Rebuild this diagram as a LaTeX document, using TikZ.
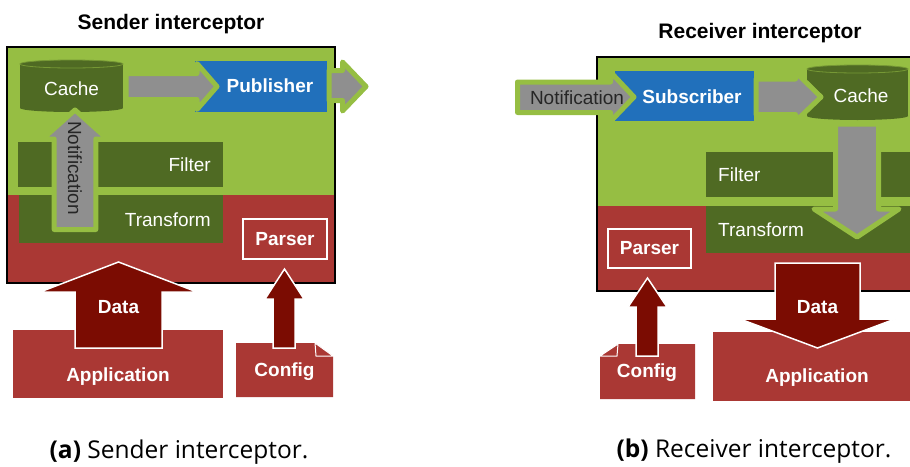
\documentclass[tikz,border=0pt]{standalone}
\usepackage{fontspec}
\setmainfont{Liberation Sans}
\newfontfamily\capfont{Open Sans}
\definecolor{lgreen}{HTML}{96BE43}
\definecolor{dkgreen}{HTML}{4F6A23}
\definecolor{boxred}{HTML}{AA3834}
\definecolor{dred}{HTML}{7B0C02}
\definecolor{pubblue}{HTML}{2170BB}
\definecolor{arrgray}{HTML}{8F8F8F}
\begin{document}
\begin{tikzpicture}[x=1pt,y=-1pt,
  lbl/.style={text=white,font=\fontsize{19}{19}\selectfont,inner sep=0pt},
  blbl/.style={text=white,font=\fontsize{19}{19}\selectfont\bfseries,inner sep=0pt},
  ttl/.style={font=\fontsize{21}{21}\selectfont\bfseries,inner sep=0pt},
  captext/.style={font=\capfont\fontsize{24.5}{24.5}\selectfont,inner sep=0pt},
  garrow/.style={fill=arrgray,draw=lgreen,line width=5pt,line join=round},
  rarrow/.style={fill=dred,draw=white,line width=1.5pt},
  whitebox/.style={fill=boxred,draw=white,line width=2pt},
  cyltop/.style={draw=lgreen!55!dkgreen,line width=0.8pt},
  frame/.style={draw=black,line width=2pt}]
\useasboundingbox (0,0) rectangle (910,466);

% ================= Sender =================
\node[ttl] (titleA) at (171,24) {Sender interceptor};
\fill[lgreen] (7,47) rectangle (335,195);
\fill[boxred] (7,195) rectangle (335,283);
\draw[frame] (7,47) rectangle (335,283);

\fill[dkgreen] (18,142) rectangle (223,187);
\node[lbl,anchor=east] (filterA) at (211,165) {Filter};
\fill[dkgreen] (19,195) rectangle (223,243);
\node[lbl,anchor=east] (transA) at (211,220) {Transform};

\draw[whitebox] (243,219) rectangle (327,259);
\node[blbl] (parserA) at (285,239) {Parser};

% cache cylinder
\fill[dkgreen] (20,64) rectangle (123,108);
\fill[dkgreen] (71.5,108) ellipse[x radius=51.5,y radius=4];
\fill[dkgreen] (71.5,64) ellipse[x radius=51.5,y radius=4];
\draw[cyltop] (71.5,64) ellipse[x radius=51.5,y radius=4];
\node[lbl] (cacheA) at (71.5,89) {Cache};

\fill[pubblue] (195,61) rectangle (327,112);
\node[blbl] (pubA) at (270,86) {Publisher};

% gray arrows
\draw[garrow] (126,73.5) -- (197,73.5) -- (197,63.5) -- (217,86.5) -- (197,109.5) -- (197,99.5) -- (126,99.5) -- cycle;
\draw[garrow] (329,70.5) -- (342.5,70.5) -- (342.5,62) -- (366,86.5) -- (342.5,111) -- (342.5,100.5) -- (329,100.5) -- cycle;
\draw[garrow] (54.2,229.5) -- (54.2,139) -- (42.5,139) -- (75,110) -- (107.5,139) -- (95.8,139) -- (95.8,229.5) -- cycle;
\node[lbl,text=black!85,rotate=-90] (notifA) at (75,168) {Notification};

% application / config
\fill[boxred] (13,330) rectangle (223,398);
\node[blbl] (appA) at (118,377) {Application};
\fill[boxred] (236,343) -- (315,343) -- (333,356) -- (333,397) -- (236,397) -- cycle;
\filldraw[fill=boxred,draw=white,line width=1pt] (315,343) -- (316,356) -- (333,356) -- cycle;
\node[blbl] (configA) at (284.5,372) {Config};

\draw[rarrow] (75,348) -- (75,292) -- (40,292) -- (118.5,262) -- (197,292) -- (162,292) -- (162,348) -- cycle;
\node[blbl] (dataA) at (118.5,307) {Data};
\draw[rarrow] (273,348) -- (273,299) -- (265,299) -- (284.5,269) -- (304,299) -- (295,299) -- (295,348) -- cycle;

\node[captext] (capA) at (179,452) {\textbf{(a)} Sender interceptor.};

% ================= Receiver =================
\node[ttl] (titleB) at (760,33) {Receiver interceptor};
\fill[lgreen] (597,57) rectangle (916,206);
\fill[boxred] (597,206) rectangle (916,291);
\draw[frame] (597,57) rectangle (916,291);

\fill[dkgreen] (706,152) rectangle (916,197);
\node[lbl,anchor=west] (filterB) at (718,175) {Filter};
\fill[dkgreen] (706,206) rectangle (916,253);
\node[lbl,anchor=west] (transB) at (718,230) {Transform};

\draw[whitebox] (608,229) rectangle (691,268);
\node[blbl] (parserB) at (649.5,248) {Parser};

\fill[pubblue] (615,71) rectangle (754,121);
\node[blbl] (subB) at (692,97) {Subscriber};

\fill[dkgreen] (807,69) rectangle (908,116);
\fill[dkgreen] (857.5,116) ellipse[x radius=50.5,y radius=4];
\fill[dkgreen] (857.5,69) ellipse[x radius=50.5,y radius=4];
\draw[cyltop] (857.5,69) ellipse[x radius=50.5,y radius=4];
\node[lbl] (cacheB) at (861,96) {Cache};

\draw[garrow] (517.5,82) -- (610.5,82) -- (610.5,72) -- (634,97) -- (610.5,121.5) -- (610.5,112.5) -- (517.5,112.5) -- cycle;
\node[lbl,text=black!85] (notifB) at (577,98) {Notification};
\draw[garrow] (756,79) -- (795.5,79) -- (795.5,72) -- (821,97) -- (795.5,121.5) -- (795.5,114.5) -- (756,114.5) -- cycle;
\draw[garrow] (835.5,124) -- (835.5,209) -- (814,209) -- (857,237) -- (899,209) -- (878.5,209) -- (878.5,124) -- cycle;

\fill[boxred] (713,332) rectangle (916,401);
\node[blbl] (appB) at (817,378) {Application};
\fill[boxred] (618,344) -- (695,344) -- (695,399) -- (600,399) -- (600,356) -- cycle;
\filldraw[fill=boxred,draw=white,line width=1pt] (618,344) -- (617,356) -- (600,356) -- cycle;
\node[blbl] (configB) at (647,373) {Config};

\draw[rarrow] (775,263) -- (860,263) -- (860,319) -- (895,319) -- (817.5,348) -- (740,319) -- (775,319) -- cycle;
\node[blbl] (dataB) at (817.5,307) {Data};
\draw[rarrow] (636,356) -- (636,307) -- (628,307) -- (647.5,278) -- (667,307) -- (658,307) -- (658,356) -- cycle;

\node[captext] (capB) at (754,451) {\textbf{(b)} Receiver interceptor.};
\end{tikzpicture}
\end{document}
